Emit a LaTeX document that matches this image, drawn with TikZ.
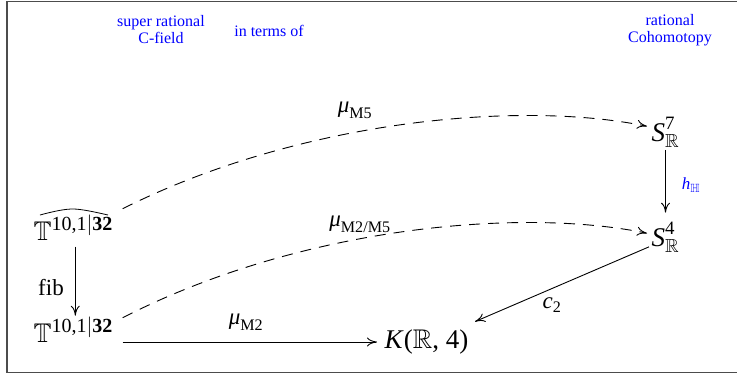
\documentclass[tikz,border=0pt]{standalone}
\usepackage{amsmath,amssymb}
\usepackage{fontspec}
\setmainfont{Liberation Serif}
\usetikzlibrary{arrows.meta}
\newcommand{\supTT}{\text{\fontsize{20}{22}\selectfont 10,1$|$\textbf{32}}}
\begin{document}
\begin{tikzpicture}[x=1pt,y=-1pt,
  big/.style={font=\fontsize{27}{31}\selectfont, inner sep=1.5pt, anchor=base west},
  lbl/.style={font=\fontsize{23}{26}\selectfont, inner sep=0pt},
  bluetxt/.style={font=\fontsize{16}{17}\selectfont, text=blue, align=center, inner sep=0pt},
  arr/.style={line width=0.9pt, -{To[length=10pt,width=9pt]}},
  darr/.style={arr, dash pattern=on 11pt off 8pt},
  frame/.style={draw=black!70, line width=1.2pt}
]
\useasboundingbox (0,0) rectangle (737,375);
\draw[frame] (7,1.5) rectangle (745,372.5);

% header texts
\node[bluetxt] (h1) at (161,30) {super rational\\C-field};
\node[bluetxt] (h2) at (269,31) {in terms of};
\node[bluetxt] (h3) at (670,30) {rational\\Cohomotopy};

% nodes
\node[big] (hT) at (32,240) {$\mathbb{T}^{\supTT}$};
\node[big] (T) at (32,342) {$\mathbb{T}^{\supTT}$};
\node[big] (K) at (383,348) {\textit{K}($\mathbb{R}$, 4)};
\node[big] (S7) at (650,141) {$\textit{S}^{\text{7}}_{\mathbb{R}}$};
\node[big] (S4) at (650,246) {$\textit{S}^{\text{4}}_{\mathbb{R}}$};

% labels
\node[lbl] (fib) at (51,288) {fib};
\node[lbl] (m2) at (246,322) {$\textit{μ}_{\text{M2}}$};
\node[lbl] (m5) at (355,110) {$\textit{μ}_{\text{M5}}$};
\node[lbl] (m25) at (360,224) {$\textit{μ}_{\text{M2/M5}}$};
\node[lbl] (c2) at (552,305) {$\textit{c}_{\text{2}}$};
\node[font=\fontsize{17}{19}\selectfont, text=blue, inner sep=0pt] (hh) at (691,185) {$\textit{h}_{\mathbb{H}}$};

% hat
\draw[line width=0.8pt] (40,215) .. controls (55,211) and (65,209) .. (73,209)
  .. controls (81,209) and (95,212) .. (108,215);

% arrows
\draw[arr] ([xshift=2pt,yshift=-5pt]hT.south) -- ([xshift=2pt,yshift=0pt]T.north);
\draw[arr] ([xshift=8pt]T.base east) -- ([xshift=-6pt,yshift=6pt]K.base west);
\draw[arr] ([yshift=-1pt]S7.south) -- ([yshift=8pt]S4.north);
\draw[arr] ([xshift=-1pt,yshift=7pt]S4.south west) -- ([xshift=5pt,yshift=6pt]K.north east);

\draw[darr] ([xshift=8pt,yshift=5pt]hT.north east) .. controls (300,120) and (520,100) .. ([xshift=-3pt,yshift=6pt]S7.west);
\draw[darr] ([xshift=8pt,yshift=-2pt]T.north east) .. controls (300,227) and (520,207) .. ([xshift=-3pt,yshift=4pt]S4.west);
\end{tikzpicture}
\end{document}
